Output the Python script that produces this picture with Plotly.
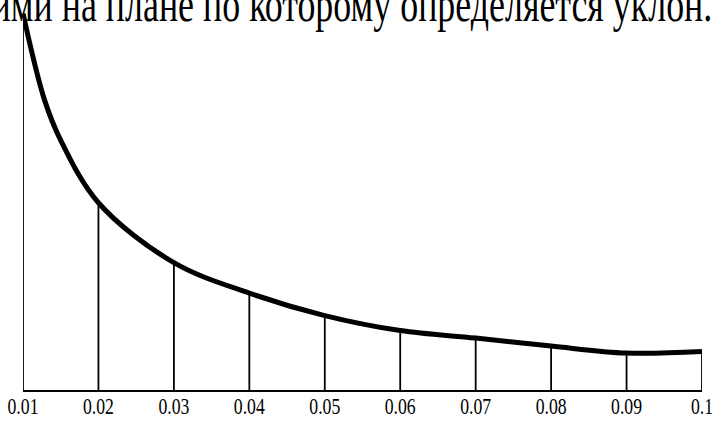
import plotly.graph_objects as go

# Data
tick_x = [0.01, 0.02, 0.03, 0.04, 0.05, 0.06, 0.07, 0.08, 0.09, 0.1]
tick_labels = ["0.01", "0.02", "0.03", "0.04", "0.05", "0.06", "0.07", "0.08", "0.09", "0.1"]
tick_y = [37.7, 18.75, 12.75, 9.7, 7.45, 5.95, 5.2, 4.4, 3.7, 3.85]

# extra points on the steep part of the curve
steep_x = [0.01285, 0.01497]
steep_y = [29.05, 25.05]

caption = "ими на плане по которому определяется уклон."

curve_x = [tick_x[0]] + steep_x + tick_x[1:]
curve_y = [tick_y[0]] + steep_y + tick_y[1:]

# vertical lines from baseline to the curve
vx, vy = [], []
for x, y in zip(tick_x, tick_y):
    vx += [x, x, None]
    vy += [0, y, None]

SERIF = "Liberation Serif, Times New Roman, serif"

fig = go.Figure()
fig.add_trace(go.Scatter(x=vx, y=vy, mode="lines",
                         line=dict(color="black", width=1.8),
                         cliponaxis=False, hoverinfo="skip"))
fig.add_trace(go.Scatter(x=curve_x, y=curve_y, mode="lines",
                         line=dict(color="black", width=5, shape="spline", smoothing=1),
                         cliponaxis=False))

fig.add_annotation(text=caption, xref="paper", yref="paper",
                   x=0.4842, y=1.0, yshift=1, xanchor="center", yanchor="middle",
                   showarrow=False,
                   font=dict(family=SERIF, size=50, color="black"))

fig.update_layout(
    width=727, height=421,
    margin=dict(l=22.5, r=25, t=5, b=30.5, pad=0),
    paper_bgcolor="white", plot_bgcolor="white",
    showlegend=False,
    xaxis=dict(range=[0.01, 0.1], tickvals=tick_x, ticktext=tick_labels,
               automargin=False,
               showgrid=False, zeroline=False, showline=True,
               linecolor="black", linewidth=2, ticks="", ticklabelstandoff=-7,
               tickfont=dict(family=SERIF, size=24, color="black")),
    yaxis=dict(range=[0, 38.55], visible=False, showgrid=False, zeroline=False,
               automargin=False),
)

post = """
document.body.style.margin = '0';
function squeeze(t, s) {
  var b = t.getBBox();
  var cx = b.x + b.width / 2;
  var tr = t.getAttribute('transform') || '';
  t.setAttribute('transform', tr + ' translate(' + cx + ',0) scale(' + s + ',1) translate(' + (-cx) + ',0)');
}
document.querySelectorAll('.xtick text').forEach(function (t) { squeeze(t, 0.738); });
document.querySelectorAll('.annotation-text').forEach(function (t) { squeeze(t, 0.718); });
"""

fig.write_html("out.html", post_script=post, config={"displayModeBar": False})
